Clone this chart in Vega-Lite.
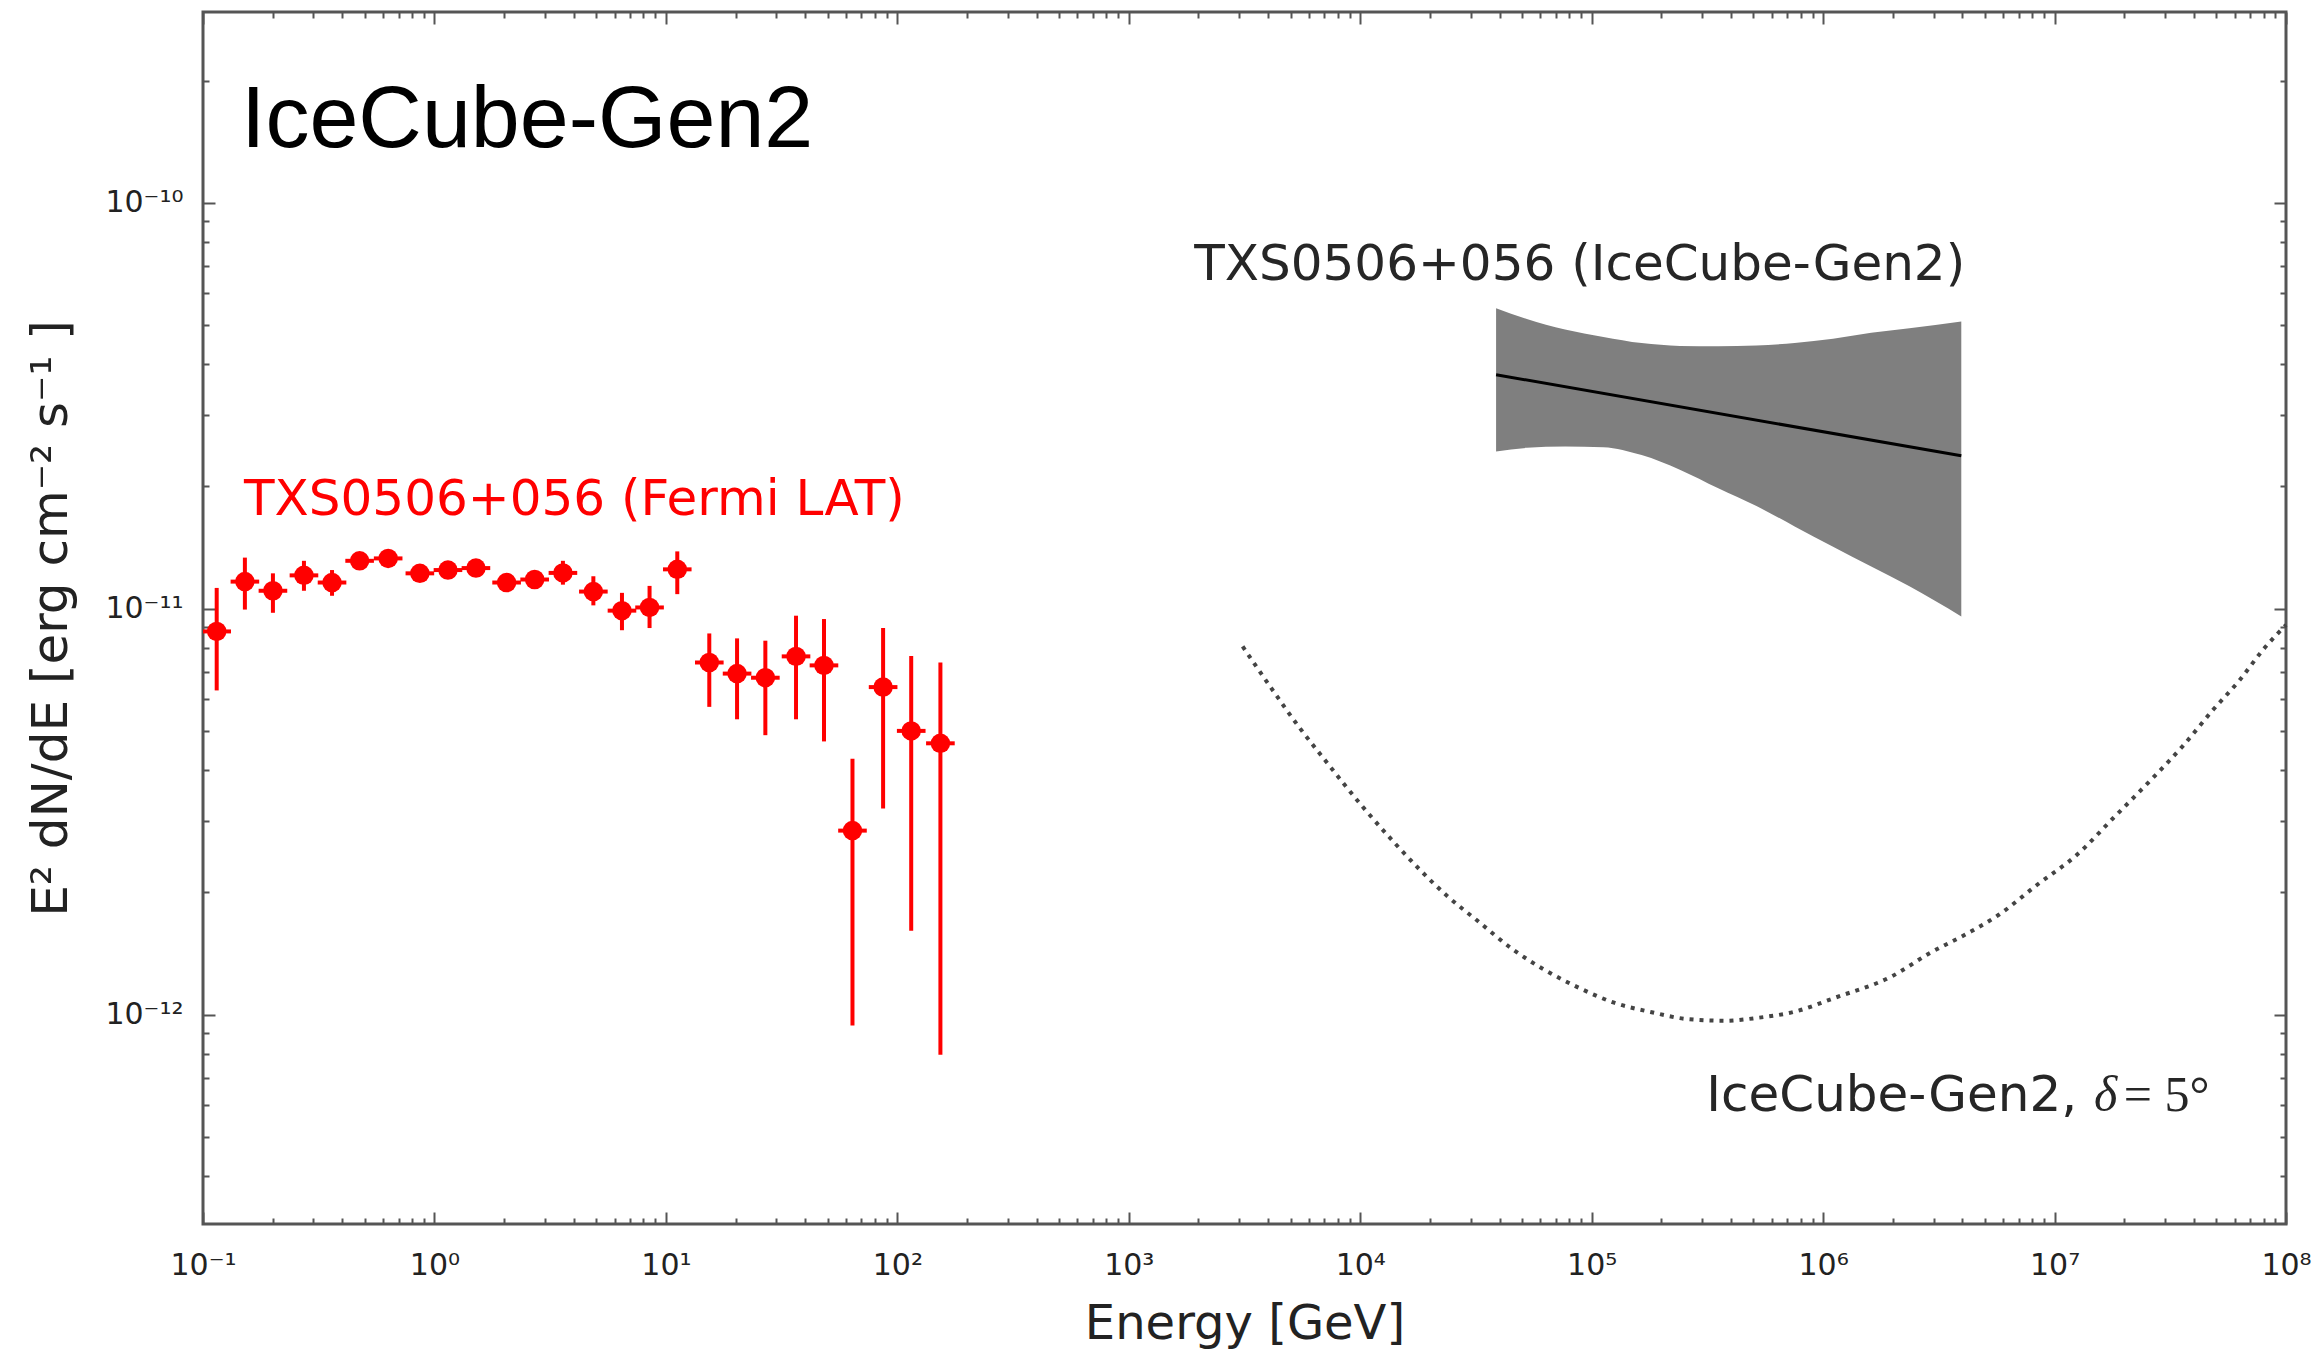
{
  "$schema": "https://vega.github.io/schema/vega-lite/v6.json",
  "autosize": "none",
  "width": 2083,
  "height": 1212,
  "padding": {"left": 203, "top": 12, "right": 37, "bottom": 127},
  "background": "white",
  "config": {"view": {"stroke": "#555555", "strokeWidth": 3}},
  "datasets": {
    "fermi": [
      {"E": 0.1146, "F": 8.79e-12, "lo": 6.29e-12, "hi": 1.125e-11, "xlo": 0.0994, "xhi": 0.1321},
      {"E": 0.1517, "F": 1.166e-11, "lo": 9.95e-12, "hi": 1.336e-11, "xlo": 0.1316, "xhi": 0.1749},
      {"E": 0.2005, "F": 1.107e-11, "lo": 9.77e-12, "hi": 1.222e-11, "xlo": 0.1739, "xhi": 0.2312},
      {"E": 0.273, "F": 1.208e-11, "lo": 1.107e-11, "hi": 1.312e-11, "xlo": 0.2368, "xhi": 0.3148},
      {"E": 0.361, "F": 1.16e-11, "lo": 1.076e-11, "hi": 1.245e-11, "xlo": 0.3131, "xhi": 0.4162},
      {"E": 0.475, "F": 1.312e-11, "lo": 1.26e-11, "hi": 1.37e-11, "xlo": 0.412, "xhi": 0.5477},
      {"E": 0.631, "F": 1.33e-11, "lo": 1.28e-11, "hi": 1.385e-11, "xlo": 0.5473, "xhi": 0.7275},
      {"E": 0.865, "F": 1.222e-11, "lo": 1.17e-11, "hi": 1.275e-11, "xlo": 0.7502, "xhi": 0.9973},
      {"E": 1.144, "F": 1.245e-11, "lo": 1.195e-11, "hi": 1.3e-11, "xlo": 0.9922, "xhi": 1.319},
      {"E": 1.511, "F": 1.259e-11, "lo": 1.205e-11, "hi": 1.315e-11, "xlo": 1.3105, "xhi": 1.742},
      {"E": 2.05, "F": 1.16e-11, "lo": 1.1e-11, "hi": 1.22e-11, "xlo": 1.778, "xhi": 2.364},
      {"E": 2.71, "F": 1.18e-11, "lo": 1.12e-11, "hi": 1.24e-11, "xlo": 2.35, "xhi": 3.125},
      {"E": 3.59, "F": 1.225e-11, "lo": 1.146e-11, "hi": 1.312e-11, "xlo": 3.114, "xhi": 4.139},
      {"E": 4.86, "F": 1.102e-11, "lo": 1.019e-11, "hi": 1.202e-11, "xlo": 4.215, "xhi": 5.604},
      {"E": 6.46, "F": 9.89e-12, "lo": 8.85e-12, "hi": 1.094e-11, "xlo": 5.603, "xhi": 7.448},
      {"E": 8.5, "F": 1.007e-11, "lo": 8.96e-12, "hi": 1.138e-11, "xlo": 7.372, "xhi": 9.801},
      {"E": 11.2, "F": 1.25e-11, "lo": 1.086e-11, "hi": 1.384e-11, "xlo": 9.714, "xhi": 12.91},
      {"E": 15.4, "F": 7.37e-12, "lo": 5.73e-12, "hi": 8.69e-12, "xlo": 13.36, "xhi": 17.76},
      {"E": 20.3, "F": 6.92e-12, "lo": 5.34e-12, "hi": 8.45e-12, "xlo": 17.61, "xhi": 23.41},
      {"E": 26.9, "F": 6.76e-12, "lo": 4.88e-12, "hi": 8.34e-12, "xlo": 23.33, "xhi": 31.02},
      {"E": 36.5, "F": 7.63e-12, "lo": 5.34e-12, "hi": 9.61e-12, "xlo": 31.66, "xhi": 42.08},
      {"E": 48.2, "F": 7.25e-12, "lo": 4.71e-12, "hi": 9.43e-12, "xlo": 41.8, "xhi": 55.57},
      {"E": 64.0, "F": 2.84e-12, "lo": 9.4e-13, "hi": 4.27e-12, "xlo": 55.51, "xhi": 73.79},
      {"E": 86.8, "F": 6.41e-12, "lo": 3.22e-12, "hi": 8.96e-12, "xlo": 75.28, "xhi": 100.1},
      {"E": 114.8, "F": 5.0e-12, "lo": 1.61e-12, "hi": 7.65e-12, "xlo": 99.57, "xhi": 132.4},
      {"E": 153.5, "F": 4.66e-12, "lo": 7.96e-13, "hi": 7.37e-12, "xlo": 133.1, "xhi": 177.0}
    ],
    "band": [
      {"E": 38640, "top": 5.5e-11, "bot": 2.44e-11},
      {"E": 52480, "top": 5.17e-11, "bot": 2.49e-11},
      {"E": 76740, "top": 4.87e-11, "bot": 2.51e-11},
      {"E": 112400, "top": 4.67e-11, "bot": 2.5e-11},
      {"E": 164400, "top": 4.51e-11, "bot": 2.39e-11},
      {"E": 240400, "top": 4.44e-11, "bot": 2.2e-11},
      {"E": 352400, "top": 4.43e-11, "bot": 1.98e-11},
      {"E": 515200, "top": 4.45e-11, "bot": 1.79e-11},
      {"E": 753400, "top": 4.51e-11, "bot": 1.595e-11},
      {"E": 1104000, "top": 4.62e-11, "bot": 1.42e-11},
      {"E": 1614000, "top": 4.78e-11, "bot": 1.27e-11},
      {"E": 2360000, "top": 4.91e-11, "bot": 1.135e-11},
      {"E": 3954000, "top": 5.1e-11, "bot": 9.57e-12}
    ],
    "center": [
      {"E": 38640, "F": 3.77e-11},
      {"E": 3954000, "F": 2.38e-11}
    ],
    "curve": [
      {"E": 3105, "F": 8.07e-12},
      {"E": 4121, "F": 6.38e-12},
      {"E": 5483, "F": 5.08e-12},
      {"E": 6918, "F": 4.29e-12},
      {"E": 10210, "F": 3.26e-12},
      {"E": 14060, "F": 2.65e-12},
      {"E": 18030, "F": 2.28e-12},
      {"E": 23990, "F": 1.95e-12},
      {"E": 31840, "F": 1.71e-12},
      {"E": 46240, "F": 1.44e-12},
      {"E": 62520, "F": 1.29e-12},
      {"E": 89330, "F": 1.16e-12},
      {"E": 125000, "F": 1.07e-12},
      {"E": 181600, "F": 1.014e-12},
      {"E": 259400, "F": 9.75e-13},
      {"E": 376700, "F": 9.66e-13},
      {"E": 521200, "F": 9.82e-13},
      {"E": 763800, "F": 1.019e-12},
      {"E": 1117000, "F": 1.099e-12},
      {"E": 1977000, "F": 1.242e-12},
      {"E": 2897000, "F": 1.419e-12},
      {"E": 4236000, "F": 1.589e-12},
      {"E": 5741000, "F": 1.762e-12},
      {"E": 8414000, "F": 2.089e-12},
      {"E": 12560000, "F": 2.483e-12},
      {"E": 17990000, "F": 3.055e-12},
      {"E": 25350000, "F": 3.724e-12},
      {"E": 35730000, "F": 4.581e-12},
      {"E": 48420000, "F": 5.636e-12},
      {"E": 63240000, "F": 6.683e-12},
      {"E": 79620000, "F": 7.925e-12},
      {"E": 100000000, "F": 9.12e-12}
    ]
  },
  "resolve": {"axis": {"x": "independent", "y": "independent"}},
  "layer": [
    {
      "data": {"name": "band"},
      "mark": {"type": "area", "color": "#7f7f7f", "opacity": 1, "interpolate": "monotone"},
      "encoding": {
        "x": {"field": "E", "type": "quantitative",
          "scale": {"type": "log", "domain": [0.1, 100000000], "nice": false},
          "axis": {"orient": "bottom", "values": [0.1, 1, 10, 100, 1000, 10000, 100000, 1000000, 10000000, 100000000],
            "offset": -12, "tickSize": 12, "tickWidth": 2, "tickColor": "#555555", "domain": false, "grid": false,
            "labelExpr": "round(log(datum.value)/LN10) < 0 ? '10⁻¹' : '10' + ['⁰','¹','²','³','⁴','⁵','⁶','⁷','⁸'][round(log(datum.value)/LN10)]",
            "labelFont": "DejaVu Sans", "labelFontSize": 30, "labelColor": "#222222", "labelPadding": 26,
            "labelOverlap": false, "labelBound": false, "labelFlush": false,
            "title": "Energy [GeV]", "titleFont": "DejaVu Sans", "titleFontSize": 48, "titleFontWeight": "normal",
            "titleColor": "#222222", "titlePadding": 20}},
        "y": {"field": "top", "type": "quantitative",
          "scale": {"type": "log", "domain": [3.05e-13, 2.95e-10], "nice": false},
          "axis": {"orient": "left", "values": [1e-12, 1e-11, 1e-10],
            "offset": -12, "tickSize": 12, "tickWidth": 2, "tickColor": "#555555", "domain": false, "grid": false,
            "labelExpr": "'10' + ['⁻¹⁰','⁻¹¹','⁻¹²'][-10 - round(log(datum.value)/LN10)]",
            "labelFont": "DejaVu Sans", "labelFontSize": 30, "labelColor": "#222222", "labelPadding": 20,
            "labelOverlap": false, "labelBound": false, "labelFlush": false,
            "title": "E² dN/dE [erg cm⁻² s⁻¹ ]", "titleFont": "DejaVu Sans", "titleFontSize": 50, "titleFontWeight": "normal",
            "titleColor": "#222222", "titlePadding": 28}},
        "y2": {"field": "bot"}
      }
    },
    {
      "data": {"name": "center"},
      "mark": {"type": "line", "color": "#000000", "strokeWidth": 3},
      "encoding": {
        "x": {"field": "E", "type": "quantitative",
          "scale": {"type": "log", "domain": [0.1, 100000000], "nice": false},
          "axis": {"orient": "top", "values": [0.1, 1, 10, 100, 1000, 10000, 100000, 1000000, 10000000, 100000000],
            "offset": -12, "tickSize": 12, "tickWidth": 2, "tickColor": "#555555", "domain": false, "grid": false,
            "labels": false, "title": null}},
        "y": {"field": "F", "type": "quantitative",
          "scale": {"type": "log", "domain": [3.05e-13, 2.95e-10], "nice": false},
          "axis": {"orient": "right", "values": [1e-12, 1e-11, 1e-10],
            "offset": -12, "tickSize": 12, "tickWidth": 2, "tickColor": "#555555", "domain": false, "grid": false,
            "labels": false, "title": null}}
      }
    },
    {
      "data": {"name": "curve"},
      "mark": {"type": "line", "color": "#444444", "strokeWidth": 4, "strokeDash": [4, 6], "interpolate": "monotone"},
      "encoding": {
        "x": {"field": "E", "type": "quantitative",
          "scale": {"type": "log", "domain": [0.1, 100000000], "nice": false},
          "axis": {"orient": "bottom", "values": [0.2, 0.3, 0.4, 0.5, 0.6, 0.7, 0.8, 0.9, 2, 3, 4, 5, 6, 7, 8, 9, 20, 30, 40, 50, 60, 70, 80, 90, 200, 300, 400, 500, 600, 700, 800, 900, 2000, 3000, 4000, 5000, 6000, 7000, 8000, 9000, 20000, 30000, 40000, 50000, 60000, 70000, 80000, 90000, 200000, 300000, 400000, 500000, 600000, 700000, 800000, 900000, 2000000, 3000000, 4000000, 5000000, 6000000, 7000000, 8000000, 9000000, 20000000, 30000000, 40000000, 50000000, 60000000, 70000000, 80000000, 90000000],
            "offset": -6, "tickSize": 6, "tickWidth": 2, "tickColor": "#555555", "domain": false, "grid": false,
            "labels": false, "title": null}},
        "y": {"field": "F", "type": "quantitative",
          "scale": {"type": "log", "domain": [3.05e-13, 2.95e-10], "nice": false},
          "axis": {"orient": "left", "values": [4e-13, 5e-13, 6e-13, 7e-13, 8e-13, 9e-13, 2e-12, 3e-12, 4e-12, 5e-12, 6e-12, 7e-12, 8e-12, 9e-12, 2e-11, 3e-11, 4e-11, 5e-11, 6e-11, 7e-11, 8e-11, 9e-11, 2e-10],
            "offset": -6, "tickSize": 6, "tickWidth": 2, "tickColor": "#555555", "domain": false, "grid": false,
            "labels": false, "title": null}}
      }
    },
    {
      "data": {"name": "fermi"},
      "mark": {"type": "rule", "color": "#ff0000", "strokeWidth": 4, "clip": true},
      "encoding": {
        "x": {"field": "E", "type": "quantitative",
          "scale": {"type": "log", "domain": [0.1, 100000000], "nice": false},
          "axis": {"orient": "top", "values": [0.2, 0.3, 0.4, 0.5, 0.6, 0.7, 0.8, 0.9, 2, 3, 4, 5, 6, 7, 8, 9, 20, 30, 40, 50, 60, 70, 80, 90, 200, 300, 400, 500, 600, 700, 800, 900, 2000, 3000, 4000, 5000, 6000, 7000, 8000, 9000, 20000, 30000, 40000, 50000, 60000, 70000, 80000, 90000, 200000, 300000, 400000, 500000, 600000, 700000, 800000, 900000, 2000000, 3000000, 4000000, 5000000, 6000000, 7000000, 8000000, 9000000, 20000000, 30000000, 40000000, 50000000, 60000000, 70000000, 80000000, 90000000],
            "offset": -6, "tickSize": 6, "tickWidth": 2, "tickColor": "#555555", "domain": false, "grid": false,
            "labels": false, "title": null}},
        "y": {"field": "lo", "type": "quantitative",
          "scale": {"type": "log", "domain": [3.05e-13, 2.95e-10], "nice": false},
          "axis": {"orient": "right", "values": [4e-13, 5e-13, 6e-13, 7e-13, 8e-13, 9e-13, 2e-12, 3e-12, 4e-12, 5e-12, 6e-12, 7e-12, 8e-12, 9e-12, 2e-11, 3e-11, 4e-11, 5e-11, 6e-11, 7e-11, 8e-11, 9e-11, 2e-10],
            "offset": -6, "tickSize": 6, "tickWidth": 2, "tickColor": "#555555", "domain": false, "grid": false,
            "labels": false, "title": null}},
        "y2": {"field": "hi"}
      }
    },
    {
      "data": {"name": "fermi"},
      "mark": {"type": "rule", "color": "#ff0000", "strokeWidth": 4, "clip": true},
      "encoding": {
        "x": {"field": "xlo", "type": "quantitative",
          "scale": {"type": "log", "domain": [0.1, 100000000], "nice": false}, "axis": null},
        "x2": {"field": "xhi"},
        "y": {"field": "F", "type": "quantitative",
          "scale": {"type": "log", "domain": [3.05e-13, 2.95e-10], "nice": false}, "axis": null}
      }
    },
    {
      "data": {"name": "fermi"},
      "mark": {"type": "point", "shape": "circle", "filled": true, "size": 380, "color": "#ff0000", "opacity": 1},
      "encoding": {
        "x": {"field": "E", "type": "quantitative",
          "scale": {"type": "log", "domain": [0.1, 100000000], "nice": false}, "axis": null},
        "y": {"field": "F", "type": "quantitative",
          "scale": {"type": "log", "domain": [3.05e-13, 2.95e-10], "nice": false}, "axis": null}
      }
    },
    {
      "data": {"values": [{"E": 0.1459, "F": 1.374e-10, "label": "IceCube-Gen2"}]},
      "mark": {"type": "text", "align": "left", "baseline": "alphabetic", "font": "Liberation Sans", "fontSize": 88, "color": "#000000"},
      "encoding": {
        "x": {"field": "E", "type": "quantitative", "scale": {"type": "log", "domain": [0.1, 100000000], "nice": false}, "axis": null},
        "y": {"field": "F", "type": "quantitative", "scale": {"type": "log", "domain": [3.05e-13, 2.95e-10], "nice": false}, "axis": null},
        "text": {"field": "label"}
      }
    },
    {
      "data": {"values": [{"E": 0.1504, "F": 1.698e-11, "label": "TXS0506+056 (Fermi LAT)"}]},
      "mark": {"type": "text", "align": "left", "baseline": "alphabetic", "font": "DejaVu Sans", "fontSize": 50, "color": "#ff0000"},
      "encoding": {
        "x": {"field": "E", "type": "quantitative", "scale": {"type": "log", "domain": [0.1, 100000000], "nice": false}, "axis": null},
        "y": {"field": "F", "type": "quantitative", "scale": {"type": "log", "domain": [3.05e-13, 2.95e-10], "nice": false}, "axis": null},
        "text": {"field": "label"}
      }
    },
    {
      "data": {"values": [
        {"E": 1917, "F": 6.46e-11, "label": "TXS0506+056 (IceCube-Gen2)"},
        {"E": 312700, "F": 5.78e-13, "label": "IceCube-Gen2,"}
      ]},
      "mark": {"type": "text", "align": "left", "baseline": "alphabetic", "font": "DejaVu Sans", "fontSize": 50, "color": "#262626"},
      "encoding": {
        "x": {"field": "E", "type": "quantitative", "scale": {"type": "log", "domain": [0.1, 100000000], "nice": false}, "axis": null},
        "y": {"field": "F", "type": "quantitative", "scale": {"type": "log", "domain": [3.05e-13, 2.95e-10], "nice": false}, "axis": null},
        "text": {"field": "label"}
      }
    },
    {
      "data": {"values": [{"E": 14800000, "F": 5.78e-13, "label": "δ"}]},
      "mark": {"type": "text", "align": "left", "baseline": "alphabetic", "font": "Liberation Serif", "fontStyle": "italic", "fontSize": 50, "color": "#262626"},
      "encoding": {
        "x": {"field": "E", "type": "quantitative", "scale": {"type": "log", "domain": [0.1, 100000000], "nice": false}, "axis": null},
        "y": {"field": "F", "type": "quantitative", "scale": {"type": "log", "domain": [3.05e-13, 2.95e-10], "nice": false}, "axis": null},
        "text": {"field": "label"}
      }
    },
    {
      "data": {"values": [{"E": 19900000, "F": 5.78e-13, "label": "= 5°"}]},
      "mark": {"type": "text", "align": "left", "baseline": "alphabetic", "font": "Liberation Serif", "fontSize": 50, "color": "#262626"},
      "encoding": {
        "x": {"field": "E", "type": "quantitative", "scale": {"type": "log", "domain": [0.1, 100000000], "nice": false}, "axis": null},
        "y": {"field": "F", "type": "quantitative", "scale": {"type": "log", "domain": [3.05e-13, 2.95e-10], "nice": false}, "axis": null},
        "text": {"field": "label"}
      }
    }
  ]
}
